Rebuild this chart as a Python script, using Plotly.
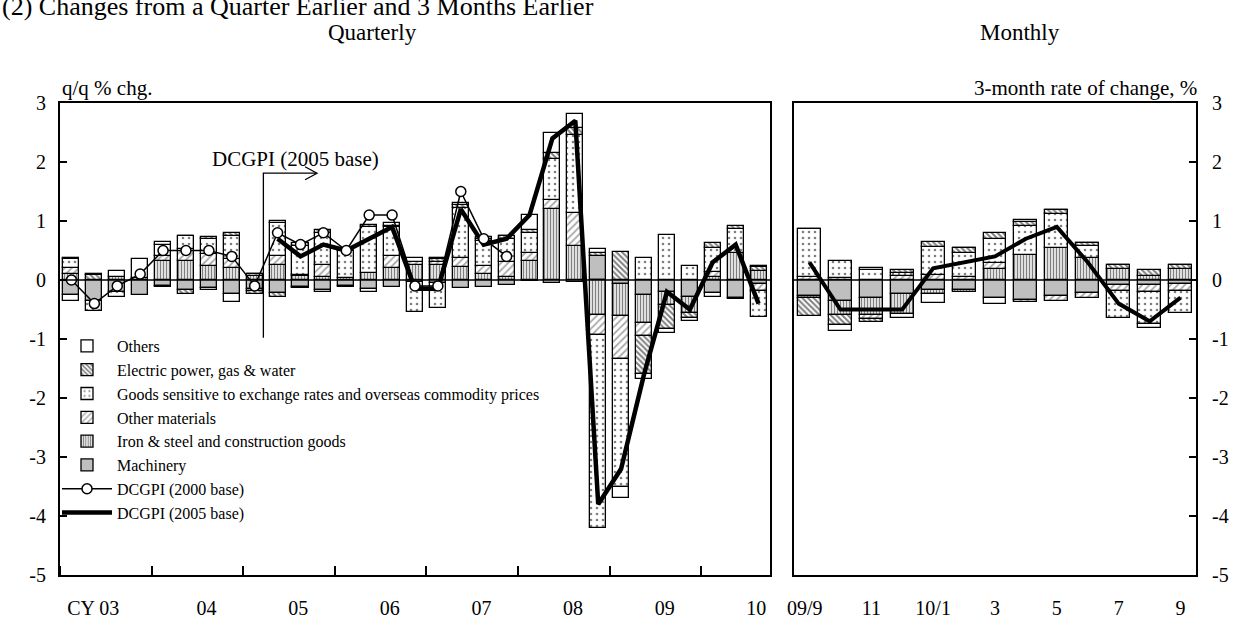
import plotly.graph_objects as go

# ---------------- data ----------------
# Quarterly: 2003Q1 .. 2010Q3 (31 quarters), contributions in q/q % chg.
q_machinery = [-0.25, -0.35, -0.20, -0.25, -0.10, -0.17, -0.14, -0.24, -0.15, -0.22, -0.12, -0.17, -0.10, -0.15, -0.12, -0.04,
               -0.05, -0.14, -0.12, -0.08, -0.02, -0.05, -0.03, 0.40, -0.06, -0.25, -0.20, -0.28, -0.22, -0.30, -0.06]
q_iron = [0.10, 0.00, 0.05, 0.03, 0.33, 0.33, 0.24, 0.20, 0.06, 0.25, 0.06, 0.05, 0.04, 0.12, 0.20, 0.25,
          0.25, 0.22, 0.10, 0.05, 0.33, 1.21, 0.57, -0.60, -0.55, -0.48, -0.23, -0.28, 0.05, 0.45, 0.15]
q_othermat = [0.10, 0.00, 0.00, 0.00, 0.07, 0.20, 0.20, 0.15, 0.05, 0.15, 0.02, 0.20, 0.00, 0.00, 0.20, 0.05,
              0.05, 0.15, 0.13, 0.25, 0.12, 0.14, 0.56, -0.33, -0.73, -0.22, 0.00, 0.00, 0.08, 0.00, -0.12]
q_goods = [0.15, -0.17, -0.08, 0.00, 0.20, 0.22, 0.25, 0.40, -0.03, 0.57, 0.50, 0.55, 0.45, 0.78, 0.50, -0.50,
           -0.42, 0.85, 0.43, 0.40, 0.34, 0.70, 1.33, -3.28, -2.17, 0.38, 0.77, 0.23, 0.42, 0.41, -0.45]
q_electric = [0.03, 0.08, 0.00, 0.00, -0.02, -0.07, 0.04, 0.04, -0.05, -0.06, 0.04, 0.04, 0.03, 0.03, 0.02, 0.00,
              0.05, 0.05, 0.04, 0.05, 0.05, 0.10, 0.11, 0.06, 0.48, -0.65, -0.40, -0.08, 0.07, 0.05, 0.07]
q_others = [-0.10, 0.02, 0.10, 0.33, 0.05, 0.00, -0.03, -0.14, 0.00, 0.03, -0.02, -0.04, -0.02, -0.05, 0.05, 0.08,
            0.03, 0.03, 0.03, 0.00, 0.26, 0.34, 0.24, 0.06, -0.18, -0.07, -0.06, -0.06, -0.06, -0.03, 0.02]
# DCGPI (2000 base): 2003Q1 .. 2007Q4
dcgpi_2000 = [0.0, -0.4, -0.1, 0.1, 0.5, 0.5, 0.5, 0.4, -0.1, 0.8, 0.6, 0.8, 0.5, 1.1, 1.1, -0.1, -0.1, 1.5, 0.7, 0.4]
# DCGPI (2005 base): 2005Q2 .. 2010Q3
dcgpi_2005 = [0.7, 0.4, 0.6, 0.5, 0.7, 0.9, -0.15, -0.15, 1.2, 0.6, 0.7, 1.1, 2.4, 2.7, -3.8, -3.2, -1.6, -0.2, -0.5, 0.3, 0.6, -0.4]
dcgpi_2005_start = 9  # index of 2005Q2

q_year_labels = ["CY 03", "04", "05", "06", "07", "08", "09", "10"]

# Monthly: 2009/9 .. 2010/9 (13 months), 3-month rate of change
m_machinery = [-0.27, -0.36, -0.31, -0.23, -0.17, -0.17, -0.31, -0.34, -0.27, -0.22, -0.08, -0.09, -0.06]
m_iron = [-0.04, -0.24, -0.29, -0.34, -0.07, -0.04, 0.19, 0.43, 0.54, 0.37, 0.19, 0.06, 0.18]
m_othermat = [0.05, 0.03, -0.06, 0.06, 0.09, 0.05, 0.09, -0.03, -0.08, -0.09, -0.11, -0.11, -0.13]
m_goods = [0.82, 0.30, 0.17, 0.06, 0.47, 0.41, 0.42, 0.49, 0.58, 0.20, -0.46, -0.54, -0.37]
m_electric = [-0.30, -0.17, -0.05, 0.05, 0.08, 0.08, 0.10, 0.06, 0.06, 0.05, 0.06, 0.11, 0.08]
m_others = [0.00, -0.09, 0.04, -0.07, -0.15, 0.00, -0.09, 0.04, 0.00, 0.00, 0.01, -0.08, 0.00]
m_dcgpi = [0.3, -0.5, -0.5, -0.5, 0.2, 0.3, 0.4, 0.7, 0.9, 0.3, -0.4, -0.7, -0.3]
m_labels = ["09/9", "11", "10/1", "3", "5", "7", "9"]

y_ticks = [-5, -4, -3, -2, -1, 0, 1, 2, 3]

# ---------------- figure ----------------
FONT = "Liberation Serif, Times New Roman, serif"
W, H = 1234, 622
ML, MR, MT, MB = 60, 38, 103, 47
PW, PH = W - ML - MR, H - MT - MB


def px_x(px):
    return (px - ML) / PW


def px_y(py):
    return (H - MB - py) / PH


nq = len(q_machinery)
nm = len(m_machinery)
qx = list(range(nq))
mx = list(range(nm))

styles = {
    "Machinery": dict(color="#bfbfbf"),
    "Iron & steel and construction goods": dict(color="white", pattern=dict(shape="|", fgcolor="black", bgcolor="white", size=3, solidity=0.5)),
    "Other materials": dict(color="white", pattern=dict(shape="/", fgcolor="#555555", bgcolor="white", size=5, solidity=0.35)),
    "Goods sensitive to exchange rates and overseas commodity prices": dict(color="white", pattern=dict(shape=".", fgcolor="black", bgcolor="white", size=6, solidity=0.15)),
    "Electric power, gas & water": dict(color="white", pattern=dict(shape="\\", fgcolor="black", bgcolor="white", size=4, solidity=0.5)),
    "Others": dict(color="white"),
}

q_series = [q_machinery, q_iron, q_othermat, q_goods, q_electric, q_others]
m_series = [m_machinery, m_iron, m_othermat, m_goods, m_electric, m_others]
names = list(styles.keys())

fig = go.Figure()

# lines first so that reversed legend order puts them last
fig.add_trace(go.Scatter(
    x=qx[dcgpi_2005_start:dcgpi_2005_start + len(dcgpi_2005)], y=dcgpi_2005,
    mode="lines", name="DCGPI (2005 base)", line=dict(color="black", width=4.5),
    xaxis="x", yaxis="y"))
fig.add_trace(go.Scatter(
    x=qx[:len(dcgpi_2000)], y=dcgpi_2000, mode="lines+markers", name="DCGPI (2000 base)",
    line=dict(color="black", width=1.5),
    marker=dict(symbol="circle", size=10, color="white", line=dict(color="black", width=1.5)),
    xaxis="x", yaxis="y"))

for name, vals in zip(names, q_series):
    st = styles[name]
    fig.add_trace(go.Bar(
        x=qx, y=vals, name=name, width=0.7,
        marker=dict(line=dict(color="black", width=1.3), **st),
        xaxis="x", yaxis="y"))

for name, vals in zip(names, m_series):
    st = styles[name]
    fig.add_trace(go.Bar(
        x=mx, y=vals, name=name, width=0.74, showlegend=False,
        marker=dict(line=dict(color="black", width=1.3), **st),
        xaxis="x2", yaxis="y2"))

fig.add_trace(go.Scatter(
    x=mx, y=m_dcgpi, mode="lines", showlegend=False, line=dict(color="black", width=4),
    xaxis="x2", yaxis="y2"))

axis_font = dict(family=FONT, size=20, color="black")
common_axis = dict(showline=True, linecolor="black", linewidth=2, mirror=True,
                   showgrid=False, zeroline=False, tickfont=axis_font)

q_tickvals = [0.95] + [4 * k + 1.9 for k in range(1, len(q_year_labels))]
m_tickvals = [-0.15] + [2 * k for k in range(1, len(m_labels))]

fig.update_layout(
    width=W, height=H,
    margin=dict(l=ML, r=MR, t=MT, b=MB, autoexpand=False),
    paper_bgcolor="white", plot_bgcolor="white",
    font=dict(family=FONT, color="black"),
    barmode="relative",
    bargap=0,
    xaxis=dict(domain=[0, px_x(770)], range=[-0.5, nq - 0.5], tickmode="array",
               tickvals=q_tickvals, ticktext=q_year_labels, ticks="",
               ticklabelstandoff=14,
               minor=dict(tickmode="array", tickvals=[4 * k - 0.5 for k in range(0, 8)],
                          ticks="inside", ticklen=9, tickwidth=1.5, tickcolor="black"),
               **common_axis),
    yaxis=dict(domain=[0, 1], range=[-5, 3], tickmode="array", tickvals=y_ticks,
               ticktext=[str(v) for v in y_ticks], ticks="inside", ticklen=7, tickwidth=1.5,
               tickcolor="black", ticklabelstandoff=8, **common_axis),
    xaxis2=dict(domain=[px_x(794), 1], range=[-0.5, nm - 0.5], anchor="y2", tickmode="array",
                tickvals=m_tickvals, ticktext=m_labels, ticks="", ticklabelstandoff=14,
                **common_axis),
    yaxis2=dict(domain=[0, 1], range=[-5, 3], anchor="x2", side="right", tickmode="array",
                tickvals=y_ticks, ticktext=[str(v) for v in y_ticks], ticks="inside",
                ticklen=7, tickwidth=1.5, tickcolor="black", ticklabelstandoff=10, **common_axis),
    legend=dict(x=px_x(57), y=px_y(329), xanchor="left", yanchor="top",
                traceorder="reversed", bgcolor="rgba(0,0,0,0)", borderwidth=0,
                font=dict(family=FONT, size=16, color="black"), itemwidth=50,
                tracegroupgap=0),
    showlegend=True,
)

# zero lines on top of the bars
for xr, yr in (("x domain", "y"), ("x2 domain", "y2")):
    fig.add_shape(type="line", xref=xr, yref=yr, x0=0, x1=1, y0=0, y1=0,
                  line=dict(color="black", width=1.5), layer="above")

# DCGPI (2005 base) marker: vertical line + arrow
fig.add_shape(type="path", xref="x", yref="y", path="M 8.38,-0.98 L 8.38,1.81 L 10.7,1.81",
              line=dict(color="black", width=1.3))
fig.add_shape(type="path", xref="x", yref="y", path="M 10.2,1.92 L 10.72,1.81 L 10.2,1.70",
              line=dict(color="black", width=1.3))

annots = [
    dict(text="(2) Changes from a Quarter Earlier and 3 Months Earlier", x=px_x(0), y=px_y(6),
         xanchor="left", yanchor="middle", size=26),
    dict(text="Quarterly", x=px_x(372), y=px_y(32), xanchor="center", yanchor="middle", size=23),
    dict(text="Monthly", x=px_x(1020), y=px_y(32), xanchor="center", yanchor="middle", size=23),
    dict(text="q/q % chg.", x=px_x(60), y=px_y(88), xanchor="left", yanchor="middle", size=21),
    dict(text="3-month rate of change, %", x=px_x(1199), y=px_y(88), xanchor="right", yanchor="middle", size=21),
    dict(text="DCGPI (2005 base)", x=px_x(295), y=px_y(159), xanchor="center", yanchor="middle", size=21),
]
for a in annots:
    fig.add_annotation(text=a["text"], x=a["x"], y=a["y"], xref="paper", yref="paper",
                       xanchor=a["xanchor"], yanchor=a["yanchor"], showarrow=False,
                       font=dict(family=FONT, size=a["size"], color="black"))

fig.write_html("out.html", config={"displayModeBar": False},
               post_script="document.body.style.margin='0';")
